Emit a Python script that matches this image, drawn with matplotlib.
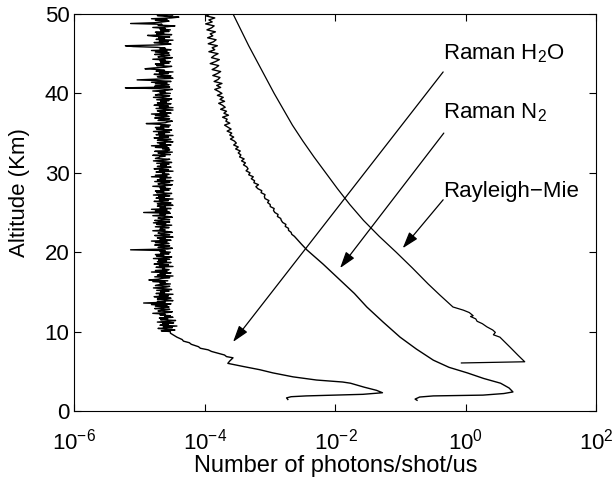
import matplotlib.pyplot as plt
import numpy as np

plt.rcParams["font.family"] = ["Liberation Sans", "DejaVu Sans"]
plt.rcParams["mathtext.fontset"] = "custom"
plt.rcParams["mathtext.rm"] = "Liberation Sans"
plt.rcParams["mathtext.it"] = "Liberation Sans:italic"

# Raman H2O profile: lower part (altitude km, log10 photons)
h2o_low_alt = [1.45, 1.65, 1.8, 1.9, 2.0, 2.1, 2.3, 2.6, 3.0, 3.5, 3.65, 3.9,
               4.3, 4.8, 5.2, 5.6, 6.0, 6.3, 6.7, 6.85, 7.05, 7.5, 7.7, 7.9,
               8.1, 8.4, 8.6, 8.8, 9.0, 9.3, 9.5, 9.8]
h2o_low_log = [-2.73, -2.75, -2.68, -2.45, -1.99, -1.58, -1.28, -1.37, -1.56,
               -1.77, -1.89, -2.29, -2.65, -2.96, -3.16, -3.41, -3.65, -3.62,
               -3.57, -3.67, -3.70, -3.90, -3.95, -4.07, -4.10, -4.21, -4.24,
               -4.33, -4.35, -4.43, -4.47, -4.53]

# Raman H2O noisy part, 10 km to 50 km every 0.1 km (one row = 1 km)
h2o_high_log = [
    -4.53, -4.67, -4.46, -4.61, -4.72, -4.50, -4.64, -4.43, -4.69, -4.56,
    -4.65, -4.48, -4.73, -4.54, -4.45, -4.68, -4.57, -4.70, -4.49, -4.62,
    -4.53, -4.69, -4.61, -4.80, -4.57, -4.50, -4.72, -4.66, -4.54, -4.77,
    -4.65, -4.55, -4.76, -4.58, -4.82, -4.52, -4.94, -4.61, -4.73, -4.49,
    -4.59, -4.73, -4.52, -4.67, -4.78, -4.56, -4.70, -4.49, -4.75, -4.62,
    -4.68, -4.55, -4.74, -4.51, -4.63, -4.79, -4.60, -4.54, -4.76, -4.71,
    -4.53, -4.69, -4.61, -4.80, -4.57, -4.86, -4.72, -4.66, -4.54, -4.77,
    -4.49, -4.73, -4.61, -4.69, -4.52, -4.82, -4.58, -4.76, -4.55, -4.65,
    -4.62, -4.75, -4.49, -4.70, -4.56, -4.78, -4.67, -4.52, -4.73, -4.59,
    -4.71, -4.54, -4.79, -4.60, -4.51, -4.74, -4.63, -4.76, -4.55, -4.68,
    -4.53, -4.69, -4.61, -5.14, -4.57, -4.50, -4.72, -4.66, -4.54, -4.77,
    -4.65, -4.55, -4.76, -4.58, -4.82, -4.52, -4.69, -4.61, -4.73, -4.49,
    -4.62, -4.77, -4.54, -4.66, -4.72, -4.50, -4.57, -4.80, -4.61, -4.69,
    -4.68, -4.55, -4.76, -4.63, -4.51, -4.74, -4.60, -4.79, -4.54, -4.71,
    -4.77, -4.54, -4.66, -4.72, -4.50, -4.57, -4.80, -4.61, -4.69, -4.53,
    -4.94, -4.55, -4.76, -4.58, -4.82, -4.52, -4.69, -4.61, -4.73, -4.49,
    -4.59, -4.73, -4.52, -4.67, -4.78, -4.56, -4.70, -4.49, -4.75, -4.62,
    -4.71, -4.54, -4.79, -4.60, -4.51, -4.74, -4.63, -4.76, -4.55, -4.68,
    -4.53, -4.69, -4.61, -4.80, -4.57, -4.50, -4.72, -4.66, -4.54, -4.77,
    -4.49, -4.73, -4.61, -4.69, -4.52, -4.82, -4.58, -4.76, -4.55, -4.65,
    -4.62, -4.75, -4.49, -4.70, -4.56, -4.78, -4.67, -4.52, -4.73, -4.59,
    -4.68, -4.55, -4.74, -4.51, -4.63, -4.79, -4.60, -4.54, -4.76, -4.71,
    -4.69, -4.61, -4.80, -4.53, -4.66, -4.72, -4.50, -4.77, -4.57, -4.54,
    -4.65, -4.55, -4.76, -4.58, -4.82, -4.52, -4.69, -4.61, -4.73, -4.49,
    -4.59, -4.73, -4.52, -4.67, -4.78, -4.56, -4.70, -4.49, -4.75, -4.62,
    -4.71, -4.54, -4.79, -4.60, -4.51, -4.74, -4.63, -4.76, -4.55, -4.68,
    -4.53, -4.69, -4.90, -4.61, -4.57, -4.50, -4.72, -4.66, -4.54, -4.77,
    -4.65, -4.55, -4.76, -4.58, -4.82, -4.52, -4.69, -4.61, -4.73, -4.49,
    -4.62, -4.75, -4.49, -4.70, -4.56, -4.78, -4.67, -4.52, -4.73, -4.59,
    -4.68, -4.55, -4.74, -4.51, -4.63, -4.79, -4.60, -4.54, -4.76, -4.71,
    -4.53, -4.69, -4.61, -4.80, -4.57, -4.50, -4.72, -5.22, -4.54, -4.77,
    -4.65, -4.55, -4.76, -4.58, -4.82, -4.52, -4.69, -5.04, -4.73, -4.49,
    -4.59, -4.73, -4.52, -4.67, -4.78, -4.56, -4.70, -4.49, -4.75, -4.62,
    -4.71, -4.92, -4.79, -4.60, -4.51, -4.74, -4.63, -4.76, -4.55, -4.68,
    -4.53, -4.69, -4.61, -4.80, -4.57, -4.50, -4.72, -4.66, -4.54, -4.77,
    -4.65, -4.55, -4.76, -4.58, -4.82, -4.52, -4.69, -4.61, -4.73, -5.10,
    -5.22, -4.73, -4.52, -4.67, -4.78, -4.56, -4.70, -4.49, -4.75, -4.62,
    -4.71, -4.54, -4.79, -4.88, -4.51, -4.74, -4.63, -4.76, -4.55, -4.68,
    -4.53, -4.69, -4.61, -4.80, -4.57, -4.46, -4.72, -4.66, -5.14, -4.77,
    -4.65, -4.55, -4.76, -4.58, -4.82, -4.52, -4.40, -4.61, -4.73, -4.49,
    -4.60]
h2o_high_alt = [10.0 + 0.1 * i for i in range(len(h2o_high_log))]

# Raman N2 profile: lower smooth part
n2_low_alt = [1.35, 1.5, 1.76, 1.9, 2.0, 2.2, 2.4, 2.9, 3.5, 4.1, 4.8, 5.5,
              6.4, 7.8, 9.3, 11.2, 13.1, 14.8, 16.5, 18.5, 20.3, 21.0]
n2_low_log = [-0.75, -0.78, -0.71, -0.50, 0.26, 0.58, 0.72, 0.66, 0.53, 0.27,
              0.02, -0.26, -0.50, -0.76, -1.01, -1.27, -1.52, -1.71, -1.93,
              -2.19, -2.44, -2.52]
# Raman N2 upper part, 22 km to 50 km every 0.25 km
n2_high_log = [
    -2.63, -2.67, -2.68, -2.72, -2.72, -2.77, -2.76, -2.81,
    -2.83, -2.84, -2.89, -2.88, -2.93, -2.95, -2.94, -3.00,
    -3.00, -3.04, -3.02, -3.08, -3.09, -3.08, -3.14, -3.13,
    -3.19, -3.22, -3.18, -3.25, -3.24, -3.29, -3.26, -3.33,
    -3.31, -3.37, -3.34, -3.36, -3.41, -3.38, -3.44, -3.40,
    -3.47, -3.45, -3.49, -3.46, -3.53, -3.49, -3.56, -3.52,
    -3.55, -3.61, -3.56, -3.62, -3.59, -3.66, -3.60, -3.65,
    -3.70, -3.62, -3.68, -3.66, -3.73, -3.64, -3.71, -3.67,
    -3.76, -3.69, -3.73, -3.79, -3.70, -3.77, -3.72, -3.81,
    -3.74, -3.79, -3.85, -3.76, -3.82, -3.74, -3.86, -3.80,
    -3.77, -3.88, -3.81, -3.76, -3.89, -3.83, -3.79, -3.92,
    -3.84, -3.78, -3.90, -3.86, -3.80, -3.94, -3.85, -3.89,
    -3.81, -3.95, -3.87, -3.83, -3.96, -3.88, -3.92, -3.84,
    -3.97, -3.90, -3.86, -3.99, -3.89, -3.94, -3.85, -3.98,
    -3.92]
n2_high_alt = [22.0 + 0.25 * i for i in range(len(n2_high_log))]

# Rayleigh-Mie profile
ray_alt = [6.05, 6.2, 7.0, 8.0, 9.3, 9.6, 9.9, 10.2, 10.6, 11.0, 11.3, 11.6,
           11.9, 12.0, 12.4, 12.7, 13.1, 14.6, 16.0, 18.0, 20.0, 22.0, 24.0,
           26.0, 28.0, 30.0, 32.0, 34.0, 36.0, 38.0, 40.0, 42.0, 44.0, 46.0,
           48.0, 50.0]
ray_log = [-0.07, 0.90, 0.80, 0.68, 0.52, 0.42, 0.45, 0.41, 0.32, 0.25, 0.17,
           0.15, 0.07, 0.11, 0.05, -0.04, -0.20, -0.40, -0.58, -0.82, -1.07,
           -1.33, -1.57, -1.78, -1.97, -2.15, -2.33, -2.50, -2.66, -2.80,
           -2.94, -3.07, -3.20, -3.33, -3.45, -3.57]

# annotations: label, baseline position, arrow start and tip (log10 x, km)
labels = ["Raman H$_2$O", "Raman N$_2$", "Rayleigh\u2212Mie"]
label_pos = [(-0.35, 44.3), (-0.35, 36.9), (-0.35, 27.0)]
arrow_start = [(-0.35, 42.7), (-0.34, 35.0), (-0.35, 26.6)]
arrow_tip = [(-3.57, 8.7), (-1.93, 18.0), (-0.97, 20.5)]

fig = plt.figure(figsize=(6.15, 4.82), dpi=100)
ax = fig.add_axes([0.1211, 0.1473, 0.8488, 0.8237])

h2o_alt = h2o_low_alt + h2o_high_alt
h2o_val = 10.0 ** np.array(h2o_low_log + h2o_high_log)
n2_alt = n2_low_alt + n2_high_alt
n2_val = 10.0 ** np.array(n2_low_log + n2_high_log)
ax.plot(h2o_val, h2o_alt, color="black", lw=1.0)
ax.plot(n2_val, n2_alt, color="black", lw=1.0)
ax.plot(10.0 ** np.array(ray_log), ray_alt, color="black", lw=0.9)

for lab, p, s, t in zip(labels, label_pos, arrow_start, arrow_tip):
    ax.text(10.0 ** p[0], p[1], lab, fontsize=16, ha="left", va="baseline")
    ax.annotate("", xy=(10.0 ** t[0], t[1]), xytext=(10.0 ** s[0], s[1]),
                arrowprops=dict(arrowstyle="-|>,head_length=1.0,head_width=0.32",
                                color="black", lw=0.9, shrinkA=0, shrinkB=0))

ax.set_xscale("log")
ax.set_xlim(1e-6, 1e2)
ax.set_ylim(0, 50)
ax.set_xticks([1e-6, 1e-4, 1e-2, 1e0, 1e2])
ax.set_yticks([0, 10, 20, 30, 40, 50])
ax.minorticks_off()
ax.tick_params(direction="in", top=True, right=True, length=5, labelsize=16)
ax.tick_params(axis="x", pad=13)
ax.set_xlabel("Number of photons/shot/us", fontsize=17, labelpad=0)
ax.set_ylabel("Altitude (Km)", fontsize=16, labelpad=4)
ax.yaxis.set_label_coords(-0.085, 0.55)

plt.savefig("out.png")
